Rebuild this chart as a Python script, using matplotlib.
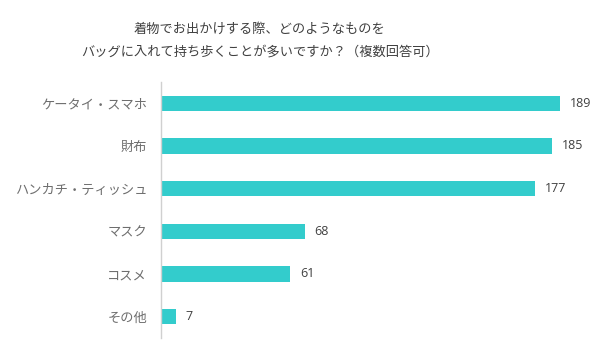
import matplotlib
matplotlib.use("Agg")
import matplotlib.pyplot as plt

plt.rcParams['font.family'] = ['Noto Sans CJK JP', 'DejaVu Sans']

TITLE = "着物でお出かけする際、どのようなものを\nバッグに入れて持ち歩くことが多いですか？（複数回答可）"
CATEGORIES = ['ケータイ・スマホ', '財布', 'ハンカチ・ティッシュ', 'マスク', 'コスメ', 'その他']
COUNTS = [189, 185, 177, 68, 61, 7]

BAR_COLOR = '#33CCCC'

fig = plt.figure(figsize=(6, 3.56), dpi=100)
ax = fig.add_axes([0.2683, 0.0506, 0.715, 0.7191])

ypos = list(range(len(CATEGORIES)))
ax.barh(ypos, COUNTS, height=0.36, color=BAR_COLOR)

for y, v in zip(ypos, COUNTS):
    ax.text(v + 4.7, y, str(v), va='center', ha='left', fontsize=9,
            color='#404040', family=['Open Sans', 'DejaVu Sans'])

ax.set_ylim(len(CATEGORIES) - 0.5, -0.5)
ax.set_xlim(0, 203)
ax.set_yticks(ypos)
ax.set_yticklabels(CATEGORIES, fontsize=9.5, color='#6e6e6e')
ax.tick_params(axis='y', length=0, pad=10)
ax.set_xticks([])

for side in ['top', 'right', 'bottom']:
    ax.spines[side].set_visible(False)
ax.spines['left'].set_color('#d0d0d0')
ax.spines['left'].set_linewidth(1)

fig.text(0.433, 0.886, TITLE, ha='center', va='center', fontsize=9.5,
         color='#404040', linespacing=2.05)

fig.savefig('out.png', dpi=100)
